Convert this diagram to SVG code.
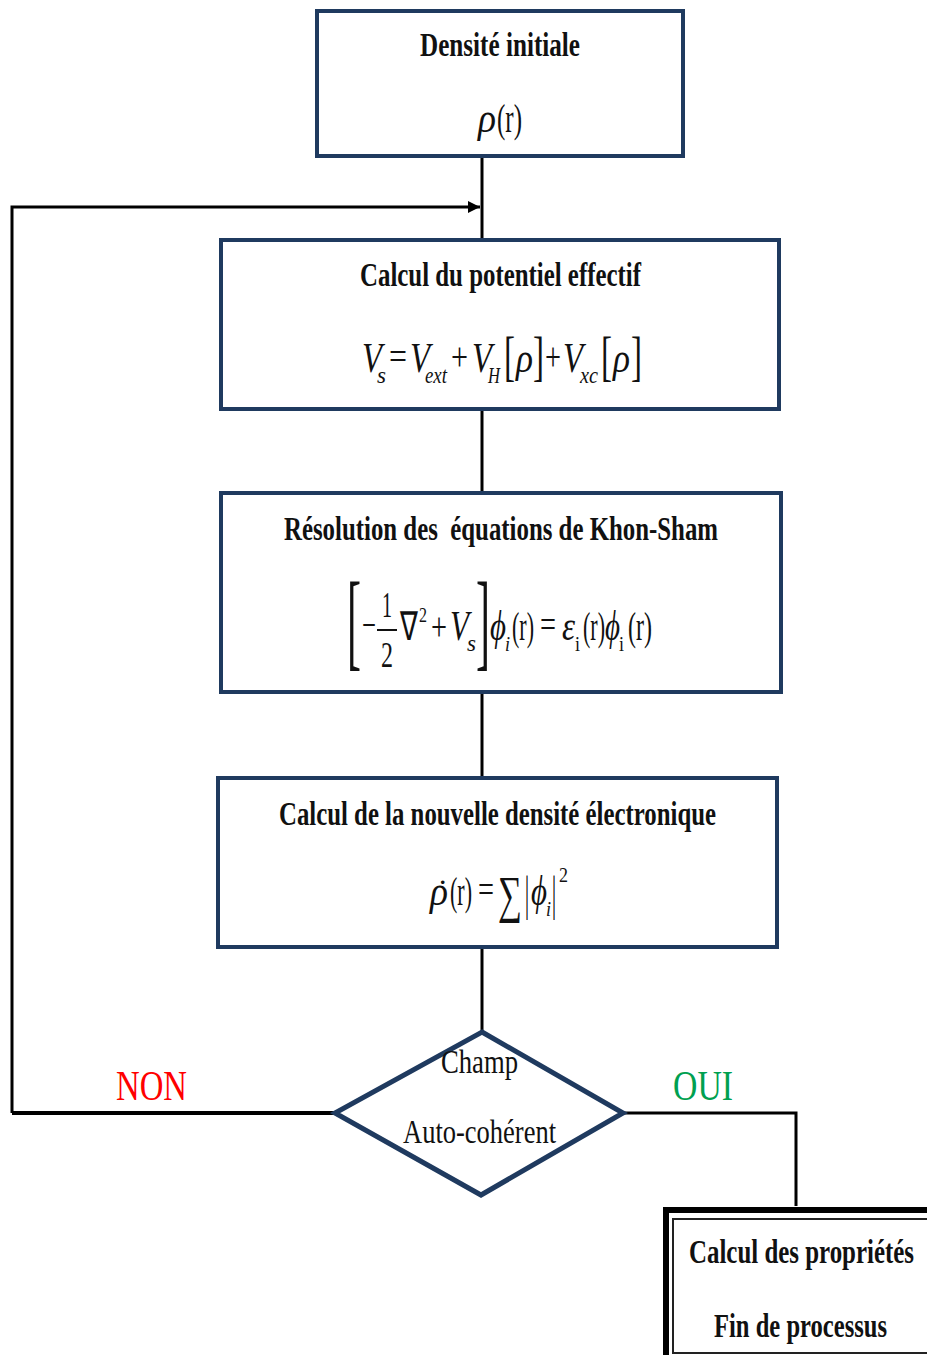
<svg xmlns="http://www.w3.org/2000/svg" width="927" height="1355" viewBox="0 0 927 1355">
<style>
.box{fill:#fff;stroke:#1F3A5F;stroke-width:4}
.ln{fill:none;stroke:#000;stroke-width:3}
.t{font-family:"Liberation Serif","Times New Roman",serif;font-weight:bold;font-size:34px;fill:#111;white-space:pre}
.d{font-family:"Liberation Serif","Times New Roman",serif;font-size:34px;fill:#111}
.lab{font-family:"Liberation Serif","Times New Roman",serif;font-size:42px}
.m{font-family:"Liberation Serif","Times New Roman",serif;font-style:italic;font-size:42px;fill:#111}
.u{font-family:"Liberation Serif","Times New Roman",serif;font-size:40px;fill:#111}
.s{font-family:"Liberation Serif","Times New Roman",serif;font-style:italic;font-size:24px;fill:#111}
.su{font-family:"Liberation Serif","Times New Roman",serif;font-size:22px;fill:#111}
</style>
<defs>
<marker id="ah" viewBox="0 0 10 10" refX="10" refY="5" markerWidth="4" markerHeight="4" orient="auto" markerUnits="strokeWidth">
<path d="M0,0 L10,5 L0,10 z" fill="#000"/>
</marker>
</defs>
<g id="connectors">
<line class="ln" x1="482" y1="157" x2="482" y2="240"/>
<polyline class="ln" points="12,1113 12,207 480,207" marker-end="url(#ah)"/>
<line class="ln" x1="482" y1="409" x2="482" y2="493"/>
<line class="ln" x1="482" y1="692" x2="482" y2="778"/>
<line class="ln" x1="482" y1="947" x2="482" y2="1032"/>
<line class="ln" x1="12" y1="1113" x2="336" y2="1113" style="stroke-width:4"/>
<polyline class="ln" points="623,1113 796,1113 796,1206"/>
</g>
<g id="n1">
<rect class="box" x="317" y="11" width="366" height="145"/>
<text class="t" x="420" y="56" textLength="160" lengthAdjust="spacingAndGlyphs">Densité initiale</text>
<text class="m" x="478" y="132" textLength="18" lengthAdjust="spacingAndGlyphs">ρ</text>
<text class="u" x="497" y="132" textLength="25" lengthAdjust="spacingAndGlyphs">(r)</text>
</g>
<g id="n2">
<rect class="box" x="221" y="240" width="558" height="169"/>
<text class="t" x="360" y="286" textLength="281" lengthAdjust="spacingAndGlyphs">Calcul du potentiel effectif</text>
<text class="m" x="362" y="372" textLength="20" lengthAdjust="spacingAndGlyphs">V</text>
<text class="s" x="377" y="383" textLength="9" lengthAdjust="spacingAndGlyphs">s</text>
<text class="u" x="389" y="370" textLength="18" lengthAdjust="spacingAndGlyphs">=</text>
<text class="m" x="410" y="372" textLength="20" lengthAdjust="spacingAndGlyphs">V</text>
<text class="s" x="425" y="383" textLength="22" lengthAdjust="spacingAndGlyphs">ext</text>
<text class="u" x="451" y="370" textLength="17" lengthAdjust="spacingAndGlyphs">+</text>
<text class="m" x="472" y="372" textLength="20" lengthAdjust="spacingAndGlyphs">V</text>
<text class="s" x="488" y="383" textLength="12" lengthAdjust="spacingAndGlyphs">H</text>
<text class="u" x="504" y="375" style="font-size:54px" textLength="11" lengthAdjust="spacingAndGlyphs">[</text>
<text class="m" x="516" y="372" textLength="17" lengthAdjust="spacingAndGlyphs">ρ</text>
<text class="u" x="533" y="375" style="font-size:54px" textLength="11" lengthAdjust="spacingAndGlyphs">]</text>
<text class="u" x="545" y="370" textLength="16" lengthAdjust="spacingAndGlyphs">+</text>
<text class="m" x="563" y="372" textLength="20" lengthAdjust="spacingAndGlyphs">V</text>
<text class="s" x="580" y="383" textLength="18" lengthAdjust="spacingAndGlyphs">xc</text>
<text class="u" x="601" y="375" style="font-size:54px" textLength="11" lengthAdjust="spacingAndGlyphs">[</text>
<text class="m" x="613" y="372" textLength="17" lengthAdjust="spacingAndGlyphs">ρ</text>
<text class="u" x="631" y="375" style="font-size:54px" textLength="11" lengthAdjust="spacingAndGlyphs">]</text>
</g>
<g id="n3">
<rect class="box" x="221" y="493" width="560" height="199"/>
<text class="t" x="284" y="540" textLength="434" lengthAdjust="spacingAndGlyphs">Résolution des  équations de Khon-Sham</text>
<text class="u" x="347" y="657" style="font-size:109px" textLength="14" lengthAdjust="spacingAndGlyphs">[</text>
<text class="u" x="362" y="638" textLength="14" lengthAdjust="spacingAndGlyphs">−</text>
<text class="u" x="382" y="617" style="font-size:36px" textLength="10" lengthAdjust="spacingAndGlyphs">1</text>
<line x1="377" y1="630" x2="397" y2="630" stroke="#111" stroke-width="2"/>
<text class="u" x="381" y="667" style="font-size:36px" textLength="12" lengthAdjust="spacingAndGlyphs">2</text>
<text class="u" x="400" y="640" textLength="18" lengthAdjust="spacingAndGlyphs">∇</text>
<text class="su" x="419" y="622" textLength="8" lengthAdjust="spacingAndGlyphs">2</text>
<text class="u" x="431" y="640" textLength="16" lengthAdjust="spacingAndGlyphs">+</text>
<text class="m" x="450" y="640" textLength="19" lengthAdjust="spacingAndGlyphs">V</text>
<text class="s" x="467" y="651" textLength="9" lengthAdjust="spacingAndGlyphs">s</text>
<text class="u" x="476" y="657" style="font-size:109px" textLength="14" lengthAdjust="spacingAndGlyphs">]</text>
<text class="m" x="490" y="640" textLength="16" lengthAdjust="spacingAndGlyphs">ϕ</text>
<text class="s" x="505" y="651" style="font-size:22px" textLength="5" lengthAdjust="spacingAndGlyphs">i</text>
<text class="u" x="512" y="640" textLength="22" lengthAdjust="spacingAndGlyphs">(r)</text>
<text class="u" x="540" y="638" textLength="16" lengthAdjust="spacingAndGlyphs">=</text>
<text class="m" x="562" y="640" textLength="13" lengthAdjust="spacingAndGlyphs">ε</text>
<text class="su" x="575" y="651" textLength="5" lengthAdjust="spacingAndGlyphs">i</text>
<text class="u" x="583" y="640" textLength="22" lengthAdjust="spacingAndGlyphs">(r)</text>
<text class="m" x="605" y="640" textLength="15" lengthAdjust="spacingAndGlyphs">ϕ</text>
<text class="su" x="619" y="651" textLength="5" lengthAdjust="spacingAndGlyphs">i</text>
<text class="u" x="628" y="640" textLength="24" lengthAdjust="spacingAndGlyphs">(r)</text>
</g>
<g id="n4">
<rect class="box" x="218" y="778" width="559" height="169"/>
<text class="t" x="279" y="825" textLength="437" lengthAdjust="spacingAndGlyphs">Calcul de la nouvelle densité électronique</text>
<text class="m" x="430" y="905" textLength="18" lengthAdjust="spacingAndGlyphs">ρ</text>
<text class="u" x="437" y="903" style="font-size:34px">˙</text>
<text class="u" x="450" y="905" textLength="22" lengthAdjust="spacingAndGlyphs">(r)</text>
<text class="u" x="478" y="903" textLength="16" lengthAdjust="spacingAndGlyphs">=</text>
<text class="u" x="498" y="912" style="font-size:52px" textLength="24" lengthAdjust="spacingAndGlyphs">∑</text>
<text class="u" x="525" y="910" style="font-size:48px;fill:#000" textLength="4" lengthAdjust="spacingAndGlyphs">|</text>
<text class="m" x="531" y="905" textLength="16" lengthAdjust="spacingAndGlyphs">ϕ</text>
<text class="s" x="546" y="916" style="font-size:22px" textLength="5" lengthAdjust="spacingAndGlyphs">i</text>
<text class="u" x="552" y="910" style="font-size:48px;fill:#000" textLength="4" lengthAdjust="spacingAndGlyphs">|</text>
<text class="su" x="559" y="882" textLength="9" lengthAdjust="spacingAndGlyphs">2</text>
</g>
<g id="n5">
<polygon points="482,1032 623,1113 481,1195 335,1113" fill="#fff" stroke="#1F3A5F" stroke-width="5" stroke-linejoin="miter"/>
<text class="d" x="441" y="1073" textLength="77" lengthAdjust="spacingAndGlyphs">Champ</text>
<text class="d" x="403" y="1143" textLength="153" lengthAdjust="spacingAndGlyphs">Auto-cohérent</text>
</g>
<g id="labels">
<text class="lab" x="116" y="1100" fill="#FF0000" textLength="71" lengthAdjust="spacingAndGlyphs">NON</text>
<text class="lab" x="673" y="1100" fill="#00A050" textLength="60" lengthAdjust="spacingAndGlyphs">OUI</text>
</g>
<g id="n6">
<rect x="666" y="1210" width="300" height="160" fill="#fff" stroke="#000" stroke-width="6"/>
<rect x="673" y="1219" width="290" height="134" fill="none" stroke="#222" stroke-width="2"/>
<text class="t" x="689" y="1263" textLength="225" lengthAdjust="spacingAndGlyphs">Calcul des propriétés</text>
<text class="t" x="714" y="1337" textLength="173" lengthAdjust="spacingAndGlyphs">Fin de processus</text>
</g>
</svg>
